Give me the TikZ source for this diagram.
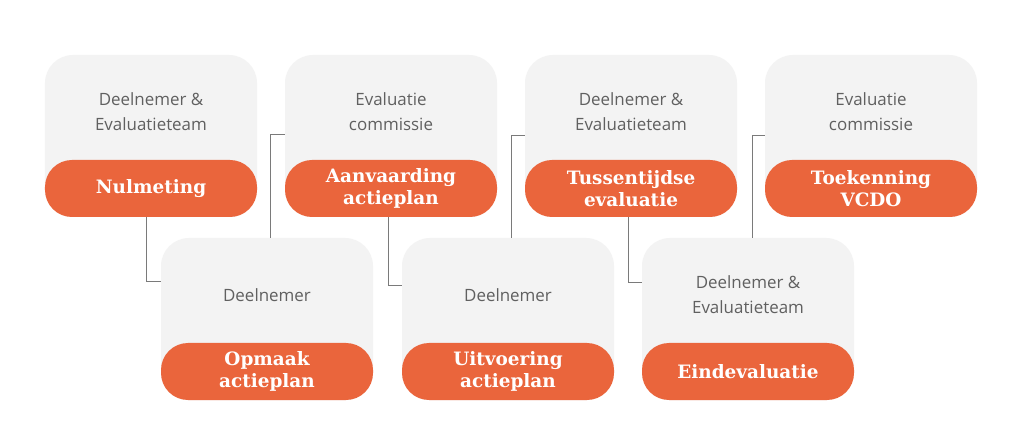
\documentclass[tikz,border=0pt]{standalone}
\usepackage{fontspec}
\setmainfont{Open Sans}
\newfontfamily\pillfont{DejaVu Serif}
\usetikzlibrary{calc, positioning}
\definecolor{cardgray}{HTML}{F3F3F3}
\definecolor{pillorange}{HTML}{EA653C}
\definecolor{labelgray}{HTML}{606060}
\definecolor{wiregray}{HTML}{7A7A7A}

\begin{document}
\begin{tikzpicture}[
        x=1bp, y=-1bp,
        card/.style={
            fill=cardgray, rounded corners=28bp,
            minimum width=212bp, minimum height=162bp,
            inner sep=0pt
        },
        pill/.style={
            fill=pillorange, rounded corners=27bp,
            minimum width=212bp, minimum height=57bp,
            inner sep=0pt, align=center, text=white,
            font=\pillfont\bfseries\fontsize{18.5}{22.5}\selectfont
        },
        role/.style={
            text=labelgray, align=center,
            font=\fontsize{17}{25}\selectfont
        },
        wire/.style={draw=wiregray, line width=0.9bp},
    ]

    \useasboundingbox[fill=white] (0,0) rectangle (1024,440);

    %============================================================
    % Cards: gray box, role text, orange step pill
    %============================================================
    \foreach \n/\x/\y/\role/\act in {
        1/151/136/{Deelnemer \&\\Evaluatieteam}/{Nulmeting},
        2/391/136/{Evaluatie\\commissie}/{Aanvaarding\\actieplan},
        3/631/136/{Deelnemer \&\\Evaluatieteam}/{Tussentijdse\\evaluatie},
        4/871/136/{Evaluatie\\commissie}/{Toekenning\\VCDO},
        5/267/319/{Deelnemer}/{Opmaak\\actieplan},
        6/508/319/{Deelnemer}/{Uitvoering\\actieplan},
        7/748/319/{Deelnemer \&\\Evaluatieteam}/{Eindevaluatie}}{
        \node[card] (c\n) at (\x,\y) {};
        \node[pill, anchor=south] (p\n) at (c\n.south) {\act};
        \node[role] (t\n) at ($(c\n.north)+(0,57)$) {\role};
    }

    %============================================================
    % Connectors between the steps
    %============================================================
    \draw[wire] ($(p1.south)+(-5,0)$) |- ($(c5.north west)+(0,44)$);
    \draw[wire] ($(c5.north)+(3,0)$)  |- ($(c2.north west)+(0,80)$);
    \draw[wire] ($(p2.south)+(-3,0)$) |- ($(c6.north west)+(0,48)$);
    \draw[wire] ($(c6.north)+(3,0)$)  |- ($(c3.north west)+(0,81)$);
    \draw[wire] ($(p3.south)+(-3,0)$) |- ($(c7.north west)+(0,45)$);
    \draw[wire] ($(c7.north)+(4,0)$)  |- ($(c4.north west)+(0,81)$);

\end{tikzpicture}
\end{document}
